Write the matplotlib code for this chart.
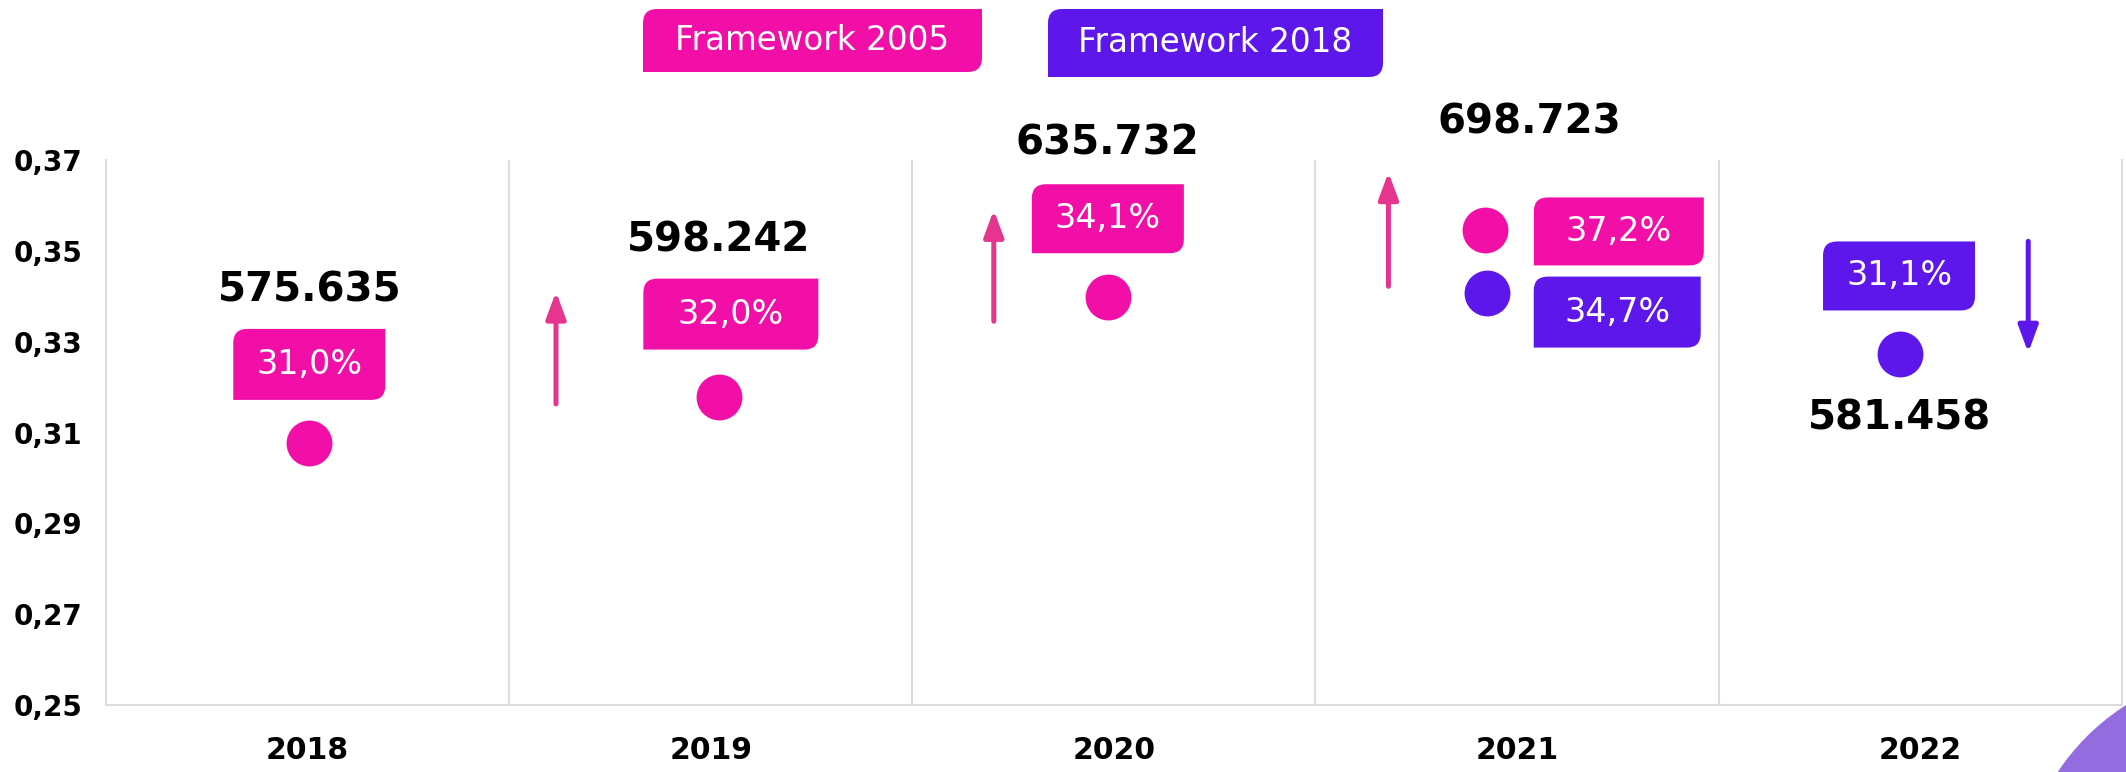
import matplotlib
matplotlib.use('Agg')
import matplotlib.pyplot as plt
from matplotlib.patches import PathPatch, Circle
from matplotlib.path import Path
from matplotlib.transforms import ScaledTranslation

# Данные
years = ['2018', '2019', '2020', '2021', '2022']
totals = [575635, 598242, 635732, 698723, 581458]

fw2005_years = ['2018', '2019', '2020', '2021']
fw2005_share = [31.0, 32.0, 34.1, 37.2]
fw2005_dot = [0.3076, 0.3178, 0.3399, 0.3545]

fw2018_years = ['2021', '2022']
fw2018_share = [34.7, 31.1]
fw2018_dot = [0.3407, 0.3273]

yticks = [0.25, 0.27, 0.29, 0.31, 0.33, 0.35, 0.37]

PINK = '#F20FA8'
PURPLE = '#5E17EB'
ARROW_PINK = '#E5358F'
GRID = '#DCDCDC'

# Раскладка подписей (сдвиги в пикселях от точки)
fw2005_shift = [0.004, 0.02, -0.015, -0.08]
fw2005_box = [(0, 79, 152, 71), (12, 83, 175, 71), (0, 78, 152, 69), (134, -1, 170, 68)]
fw2018_shift = [-0.074, -0.05]
fw2018_box = [(130, -19, 167, 71), (-1, 78, 152, 69)]
total_offset = [(0, 153), (0, 157), (0, 153), (45, 108), (0, -65)]
arrows = [(1.116, 0.3163, 0.3410, ARROW_PINK), (2.202, 0.3345, 0.3590, ARROW_PINK),
          (3.181, 0.3422, 0.3673, ARROW_PINK), (4.768, 0.3521, 0.3276, PURPLE)]


def tab_path(x0, y0, w, h, r):
    verts = [(x0, y0), (x0 + w - r, y0), (x0 + w, y0), (x0 + w, y0 + r),
             (x0 + w, y0 + h), (x0 + r, y0 + h), (x0, y0 + h), (x0, y0 + h - r), (x0, y0)]
    codes = [Path.MOVETO, Path.LINETO, Path.CURVE3, Path.CURVE3,
             Path.LINETO, Path.LINETO, Path.CURVE3, Path.CURVE3, Path.CLOSEPOLY]
    return Path(verts, codes)


def fmt_pct(v):
    return f'{v:.1f}%'.replace('.', ',')


def fmt_total(v):
    return f'{v:,}'.replace(',', '.')


fig = plt.figure(figsize=(21.26, 7.72), dpi=100)
ax = fig.add_axes([0.0499, 0.0868, 0.9481, 0.7059])
ax.set_xlim(0, 5)
ax.set_ylim(0.25, 0.37)
ax.set_autoscale_on(False)


def tag(x, y, dx, dy, w, h, text, color):
    tr = fig.dpi_scale_trans + ScaledTranslation(x, y, ax.transData)
    p = PathPatch(tab_path((dx - w / 2) / 100, (dy - h / 2) / 100, w / 100, h / 100, 0.14),
                  fc=color, ec='none', transform=tr, clip_on=False, zorder=4)
    ax.add_patch(p)
    ax.text(dx / 100, dy / 100, text, transform=tr, ha='center', va='center',
            color='white', fontsize=24, zorder=5)


# Колонки
for i in range(1, 5):
    ax.axvline(i, color=GRID, lw=1.5, zorder=0)
for s in ['left', 'bottom', 'right']:
    ax.spines[s].set_color(GRID)
    ax.spines[s].set_linewidth(1.5)
ax.spines['top'].set_visible(False)

ax.set_xticks([i + 0.5 for i in range(len(years))])
ax.set_xticklabels(years, fontsize=21.5, fontweight='bold')
ax.set_yticks(yticks)
ax.set_yticklabels([f'{t:.2f}'.replace('.', ',') for t in yticks], fontsize=20, fontweight='bold')
ax.tick_params(axis='x', length=0, pad=22)
ax.tick_params(axis='y', length=0, pad=17)

# Точки и подписи
xs05 = [years.index(y) + 0.5 + s for y, s in zip(fw2005_years, fw2005_shift)]
ax.scatter(xs05, fw2005_dot, s=1090, color=PINK, zorder=3, linewidths=0)
for x, y, v, (dx, dy, w, h) in zip(xs05, fw2005_dot, fw2005_share, fw2005_box):
    tag(x, y, dx, dy, w, h, fmt_pct(v), PINK)

xs18 = [years.index(y) + 0.5 + s for y, s in zip(fw2018_years, fw2018_shift)]
ax.scatter(xs18, fw2018_dot, s=1090, color=PURPLE, zorder=3, linewidths=0)
for x, y, v, (dx, dy, w, h) in zip(xs18, fw2018_dot, fw2018_share, fw2018_box):
    tag(x, y, dx, dy, w, h, fmt_pct(v), PURPLE)

# Итоговые значения
anchors = [(xs05[0], fw2005_dot[0]), (xs05[1], fw2005_dot[1]), (xs05[2], fw2005_dot[2]),
           (xs05[3], fw2005_dot[3]), (xs18[1], fw2018_dot[1])]
for (x, y), v, (dx, dy) in zip(anchors, totals, total_offset):
    ax.annotate(fmt_total(v), xy=(x, y), xytext=(dx, dy), textcoords='offset pixels',
                ha='center', va='center', fontsize=29, fontweight='bold', color='black',
                annotation_clip=False)

# Стрелки
for x, y0, y1, c in arrows:
    ax.annotate('', xy=(x, y1), xytext=(x, y0),
                arrowprops=dict(arrowstyle='-|>,head_length=1.0,head_width=0.37',
                                mutation_scale=16, lw=3.6, color=c, shrinkA=0, shrinkB=0),
                annotation_clip=False)

# Легенда
for x0, x1, y0, y1, label, c in [(6.43, 9.82, 7.00, 7.63, 'Framework 2005', PINK),
                                  (10.48, 13.83, 6.95, 7.63, 'Framework 2018', PURPLE)]:
    fig.patches.append(PathPatch(tab_path(x0, y0, x1 - x0, y1 - y0, 0.14), fc=c, ec='none',
                                 transform=fig.dpi_scale_trans))
    fig.text((x0 + x1) / 2, (y0 + y1) / 2, label, transform=fig.dpi_scale_trans,
             ha='center', va='center', color='white', fontsize=23.5)

# Декоративный круг в углу
fig.patches.append(Circle((22.50, -1.28), 2.31, fc='#936DE0', ec='none',
                          transform=fig.dpi_scale_trans))

fig.savefig('out.png', dpi=100)
plt.close(fig)
